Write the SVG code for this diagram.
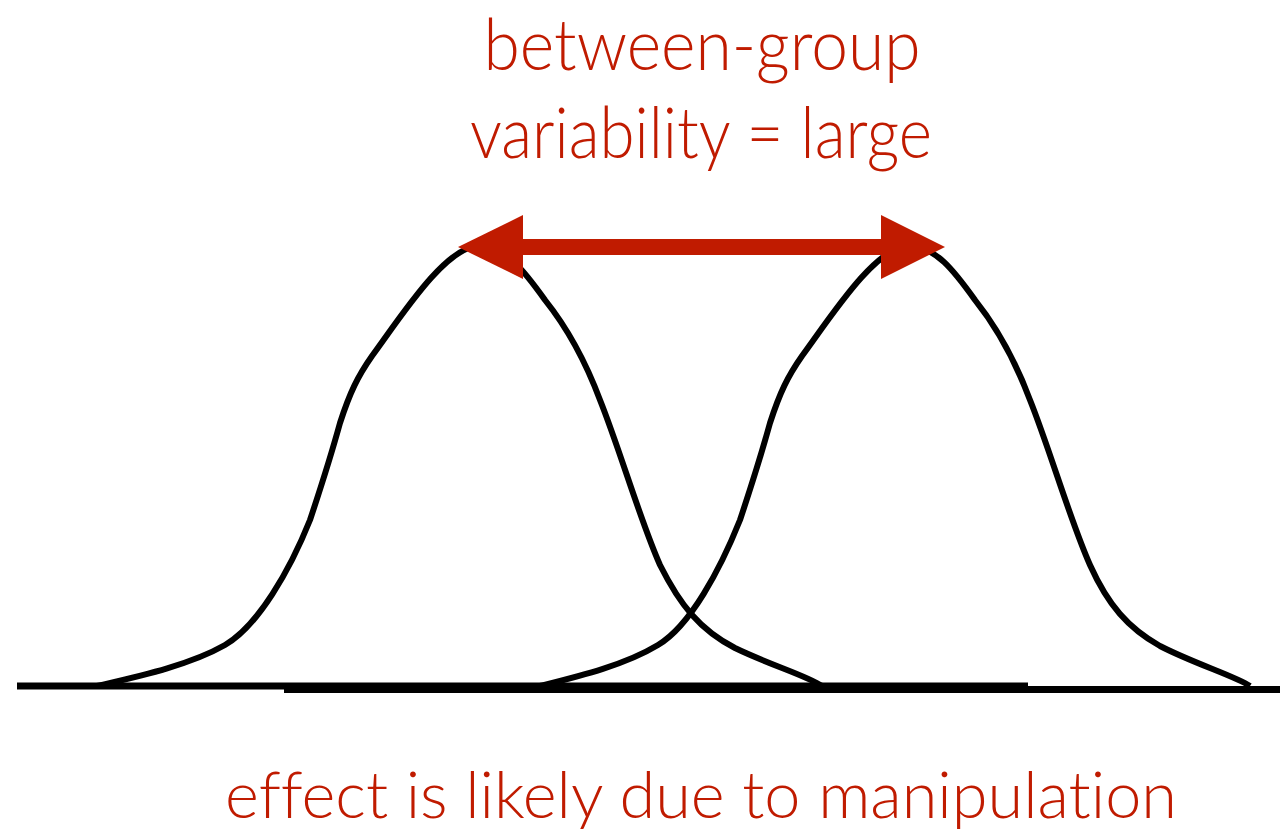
<svg xmlns="http://www.w3.org/2000/svg" width="1280" height="834" viewBox="0 0 1280 834">
<style>
.lbl{font-family:Lato,"Open Sans","Liberation Sans",sans-serif;font-weight:300;fill:#C01B00;text-anchor:middle;font-variant-ligatures:none;font-feature-settings:"liga" 0,"clig" 0}
.curve{fill:none;stroke:#000;stroke-width:6;stroke-linejoin:round}
.axis{stroke:#000;stroke-width:7;fill:none}
.arrow{fill:#C01B00}
</style>
<rect width="1280" height="834" fill="#fff"/>
<g id="axis">
<line class="axis" x1="17" y1="686" x2="1028" y2="686"/>
<line class="axis" x1="284" y1="689.5" x2="1280" y2="689.5"/>
</g>
<g id="curve-left">
<path class="curve" d="M97 686 C140 676 190 665 225 645 C258 626 290 570 310 520 C320 490 332 452 340 423 C350 392 358 376 372 356 C400 318 445 247 478 246 C505 245 525 272 545 300 C565 325 585 360 600 400 C620 450 640 520 660 565 C680 605 700 630 735 648 C770 665 808 676 822 686"/>
</g>
<g id="curve-right">
<path class="curve" d="M540 686 C580 676 625 665 658 645 C690 626 720 570 740 520 C750 490 762 452 770 423 C780 392 788 376 802 356 C830 318 875 247 908 246 C935 245 955 272 975 300 C995 325 1015 360 1030 400 C1050 450 1070 520 1090 565 C1108 605 1128 628 1160 646 C1195 664 1235 676 1250 686"/>
</g>
<g id="connectors">
<rect class="arrow" x="520" y="239" width="364" height="16"/>
<polygon class="arrow" points="458,247 523,215 523,279"/>
<polygon class="arrow" points="945,247 881,215 881,279"/>
</g>
<g id="title">
<text class="lbl" x="702" y="70" font-size="71" textLength="437" lengthAdjust="spacingAndGlyphs">between-group</text>
<text class="lbl" x="701" y="158" font-size="71" textLength="462" lengthAdjust="spacingAndGlyphs">variability = large</text>
</g>
<g id="caption">
<text class="lbl" x="701" y="818" font-size="66" textLength="952" lengthAdjust="spacingAndGlyphs">effect is likely due to manipulation</text>
</g>
</svg>
